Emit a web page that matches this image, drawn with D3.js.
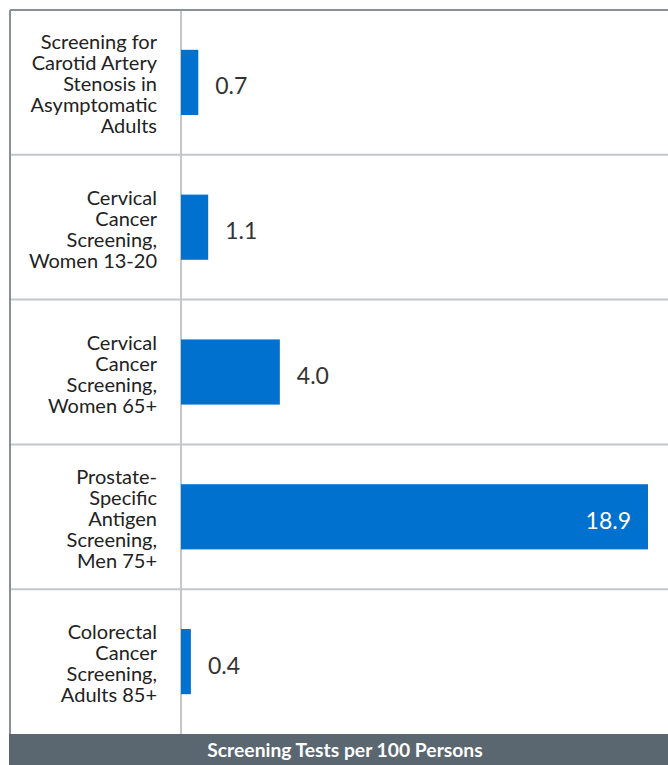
<!DOCTYPE html>
<html><head><meta charset="utf-8">
<script src="https://cdn.jsdelivr.net/npm/d3@7"></script>
<style>html,body{margin:0;padding:0;background:#fff;}svg{display:block;}</style>
</head><body>
<svg id="chart" width="668" height="765"></svg>
<script>
const categories = [
  "Screening for|Carotid Artery|Stenosis in|Asymptomatic|Adults",
  "Cervical|Cancer|Screening,|Women 13-20",
  "Cervical|Cancer|Screening,|Women 65+",
  "Prostate-|Specific|Antigen|Screening,|Men 75+",
  "Colorectal|Cancer|Screening,|Adults 85+"
];
const values = [0.7, 1.1, 4.0, 18.9, 0.4];
const valueLabels = ["0.7", "1.1", "4.0", "18.9", "0.4"];
const axisTitle = "Screening Tests per 100 Persons";

(function () {
const W = 668, H = 765;
const mLeft = 10, mTop = 10, axisX = 181, mRight = 668, plotBottom = 734;
const svg = d3.select("#chart");
const font = "Lato, 'Open Sans', sans-serif";

const x = d3.scaleLinear().domain([0, 18.9]).range([axisX, 648]);
const y = d3.scaleBand().domain(categories).range([mTop, plotBottom])
  .paddingInner(0.55).paddingOuter(0.275);
const step = y.step();

// row separators
const seps = d3.range(1, categories.length).map(i => mTop + i * step);
svg.selectAll("line.sep").data(seps).join("line")
  .attr("class", "sep")
  .attr("x1", mLeft).attr("x2", mRight).attr("y1", d => d).attr("y2", d => d)
  .attr("stroke", "#c3c6ca").attr("stroke-width", 2);

// axis line
svg.append("line").attr("x1", axisX).attr("x2", axisX).attr("y1", mTop).attr("y2", plotBottom)
  .attr("stroke", "#c3c6ca").attr("stroke-width", 2);

// frame
svg.append("line").attr("x1", mLeft).attr("x2", mRight).attr("y1", mTop).attr("y2", mTop)
  .attr("stroke", "#8a9098").attr("stroke-width", 2);
svg.append("line").attr("x1", mLeft).attr("x2", mLeft).attr("y1", mTop).attr("y2", plotBottom)
  .attr("stroke", "#8a9098").attr("stroke-width", 2);

// bars
svg.selectAll("rect.bar").data(values).join("rect")
  .attr("class", "bar")
  .attr("x", x(0))
  .attr("y", (d, i) => y(categories[i]))
  .attr("width", d => x(d) - x(0))
  .attr("height", y.bandwidth())
  .attr("fill", "#0071ce");

// value labels
svg.selectAll("text.val").data(values).join("text")
  .attr("class", "val")
  .attr("x", d => d > 10 ? x(d) - 17 : x(d) + 17)
  .attr("y", (d, i) => y(categories[i]) + y.bandwidth() / 2 + 12)
  .attr("text-anchor", d => d > 10 ? "end" : "start")
  .attr("fill", d => d > 10 ? "#ffffff" : "#333333")
  .style("font-family", font).style("font-size", "23px")
  .text((d, i) => valueLabels[i]);

// category labels
const lh = 21;
categories.forEach((c, i) => {
  const lines = c.split("|");
  const cy = y(c) + y.bandwidth() / 2;
  const firstBase = cy - (lines.length - 1) * lh / 2 + 9;
  const t = svg.append("text")
    .attr("text-anchor", "end")
    .attr("fill", "#222222")
    .style("font-family", font).style("font-size", "20px");
  lines.forEach((l, j) => {
    t.append("tspan").attr("x", 157).attr("y", firstBase + j * lh).text(l);
  });
});

// footer
svg.append("rect").attr("x", 9).attr("y", plotBottom).attr("width", mRight - 9).attr("height", H - plotBottom)
  .attr("fill", "#5a6670");
svg.append("text").attr("x", 345).attr("y", 757)
  .attr("text-anchor", "middle").attr("fill", "#ffffff")
  .style("font-family", font).style("font-size", "19.3px").style("font-weight", "bold")
  .text(axisTitle);
})();
</script>
</body></html>
